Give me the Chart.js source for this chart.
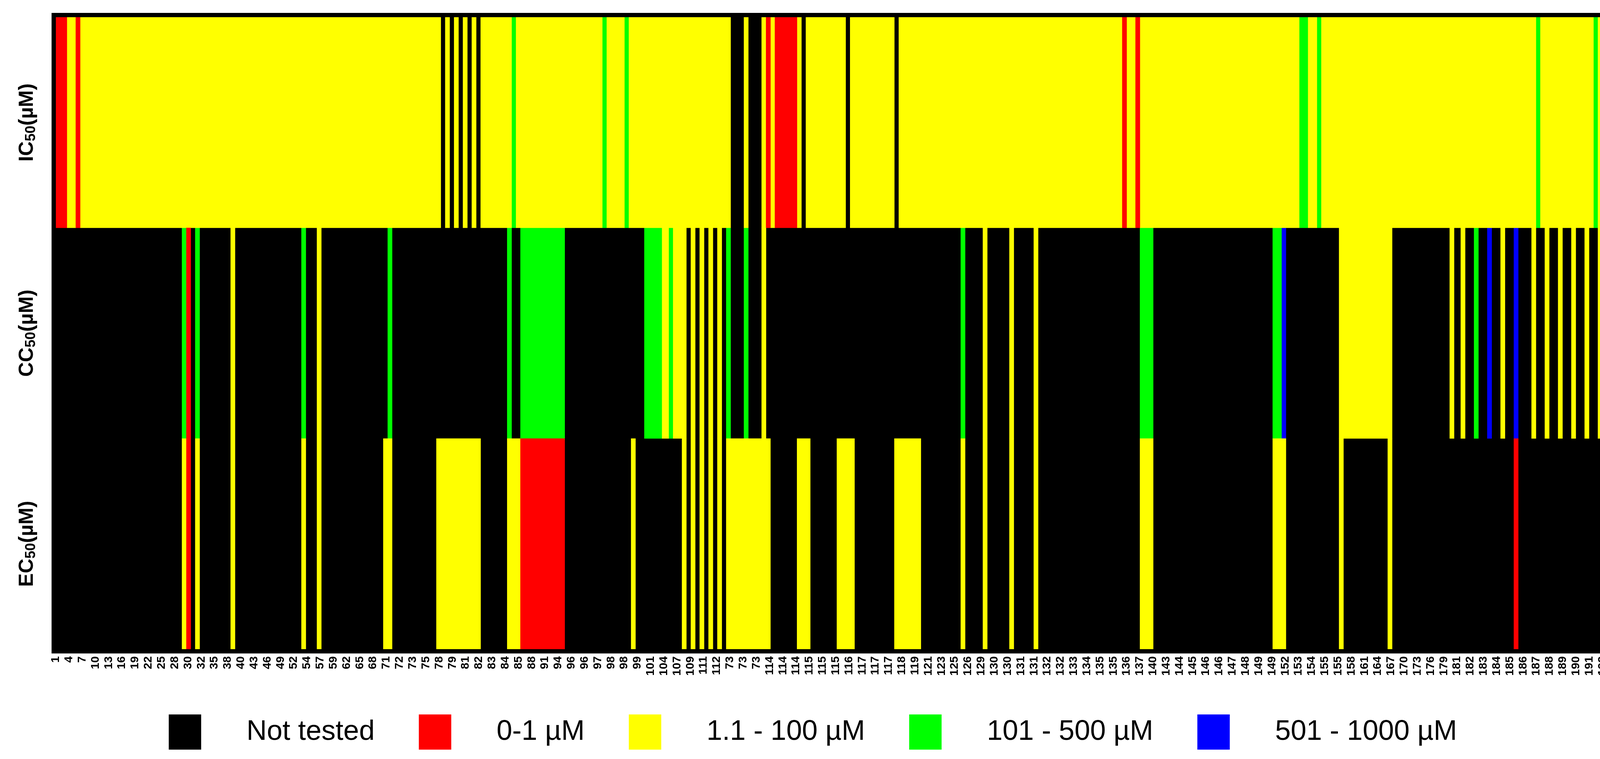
<!DOCTYPE html>
<html>
<head>
<meta charset="utf-8">
<script src="https://cdn.jsdelivr.net/npm/chart.js@4/dist/chart.umd.min.js"></script>
<style>
  html, body { margin: 0; padding: 0; background: #fff; }
  #wrap { width: 4160px; height: 1942px; }
</style>
</head>
<body>
<div id="wrap"><canvas id="heat"></canvas></div>
<script>
// Rows of the heatmap
const rows = ['IC50', 'CC50', 'EC50'];

// Compound labels under the x axis (one every 6 sub-columns)
const xLabels = [
  '1','4','7','10','13','16','19','22','25','28','30','32','35','38','40','43','46','49','52','54',
  '57','59','62','65','68','71','72','73','75','78','79','81','82','83','84','85','88','91',
  '94','96','96','97','98','98','99','101','104','107','109','111','112','73','73','73',
  '114','114','114','115','115','115','116','117','117','117','118','119','121','123','125','126','129',
  '130','130','131','131','132','132','133','134',
  '135','135','136','137','140','143','144','145','146','146','147','148','149','149','152','153','154',
  '155','155','158','161','164','167','170','173','176','179','181','182','183','184','185','186',
  '187','188','189','190','191','192'
];
const totalCols = 702;

// Segments [start, end] in sub-columns, per row and per class
const ic50Red = [[0,5],[9,11],[321,323],[325,335],[482,484],[488,490]];
const ic50Yellow = [[5,9],[11,174],[176,178],[180,182],[184,186],[188,190],[192,206],[208,247],[249,257],
  [259,305],[311,313],[319,321],[323,325],[335,337],[339,357],[359,379],[381,482],[484,488],[490,562],
  [566,570],[572,669],[671,695],[697,702]];
const ic50Green = [[206,208],[247,249],[257,259],[562,566],[570,572],[669,671],[695,697]];
const ic50Blue = [];

const cc50Red = [[59,61]];
const cc50Yellow = [[79,81],[118,120],[274,277],[279,285],[287,289],[291,293],[295,297],[299,301],[319,321],
  [419,421],[431,433],[442,444],[580,604],[630,632],[635,637],[653,655],[667,669],[673,675],[679,681],
  [685,687],[691,693],[697,699]];
const cc50Green = [[57,59],[63,65],[111,113],[150,152],[204,206],[210,230],[266,274],[277,279],[303,305],
  [311,313],[409,411],[490,496],[550,554],[641,643]];
const cc50Blue = [[554,556],[647,649],[659,661]];

const ec50Red = [[59,61],[210,230],[659,661]];
const ec50Yellow = [[57,59],[63,65],[79,81],[111,113],[118,120],[148,152],[172,192],[204,210],[260,262],
  [283,285],[287,289],[291,293],[295,297],[299,301],[303,323],[335,341],[353,361],[379,391],[409,411],
  [419,421],[431,433],[442,444],[490,496],[550,556],[580,582],[602,604]];
const ec50Green = [];
const ec50Blue = [];

const classNames = ['Not tested', '0-1 \u00b5M', '1.1 - 100 \u00b5M', '101 - 500 \u00b5M', '501 - 1000 \u00b5M'];
const classColors = ['#000000', '#ff0000', '#ffff00', '#00ff00', '#0000ff'];

function toPoints(segs, row) {
  return segs.map(s => ({ x: [s[0], s[1]], y: row }));
}

const bySeries = [
  rows.map(r => ({ x: [0, totalCols], y: r })),
  [...toPoints(ic50Red, 'IC50'), ...toPoints(cc50Red, 'CC50'), ...toPoints(ec50Red, 'EC50')],
  [...toPoints(ic50Yellow, 'IC50'), ...toPoints(cc50Yellow, 'CC50'), ...toPoints(ec50Yellow, 'EC50')],
  [...toPoints(ic50Green, 'IC50'), ...toPoints(cc50Green, 'CC50'), ...toPoints(ec50Green, 'EC50')],
  [...toPoints(ic50Blue, 'IC50'), ...toPoints(cc50Blue, 'CC50'), ...toPoints(ec50Blue, 'EC50')]
];

const datasets = bySeries.map((d, i) => ({
  label: classNames[i],
  data: d,
  backgroundColor: classColors[i],
  borderWidth: 0,
  barPercentage: 1,
  categoryPercentage: 1,
  order: i === 0 ? 1 : 0
}));

// Row titles with subscript, plus the thick frame
const rowTitles = {
  id: 'rowTitles',
  afterDraw(chart) {
    const ctx = chart.ctx;
    const ys = chart.scales.y;
    const a = chart.chartArea;
    ctx.save();
    ctx.strokeStyle = '#000';
    ctx.lineWidth = 11;
    ctx.strokeRect(a.left - 5.5, a.top - 5.5, a.right - a.left + 11, a.bottom - a.top + 11);
    rows.forEach((r, i) => {
      const y = ys.getPixelForValue(i);
      const parts = [[r.slice(0, 2), 52, 0], ['50', 36, 10], ['(\u00b5M)', 52, 0]];
      ctx.save();
      ctx.translate(70, y);
      ctx.rotate(-Math.PI / 2);
      let w = 0;
      parts.forEach(p => { ctx.font = 'bold ' + p[1] + 'px "Liberation Sans", Arial'; w += ctx.measureText(p[0]).width; });
      let x = -w / 2;
      ctx.fillStyle = '#000';
      ctx.textBaseline = 'middle';
      parts.forEach(p => {
        ctx.font = 'bold ' + p[1] + 'px "Liberation Sans", Arial';
        ctx.fillText(p[0], x, p[2]);
        x += ctx.measureText(p[0]).width;
      });
      ctx.restore();
    });
    ctx.restore();
  }
};

new Chart(document.getElementById('heat'), {
  type: 'bar',
  data: { labels: rows, datasets: datasets },
  options: {
    indexAxis: 'y',
    responsive: true,
    maintainAspectRatio: false,
    animation: false,
    layout: { padding: { left: 143, right: 41, top: 44, bottom: 14 } },
    scales: {
      x: {
        type: 'linear',
        min: 0,
        max: totalCols,
        grid: { display: false },
        border: { display: false },
        afterBuildTicks: s => { s.ticks = xLabels.map((l, k) => ({ value: k * 5.975 })); },
        ticks: {
          autoSkip: false,
          minRotation: 90,
          maxRotation: 90,
          padding: 10,
          color: '#000',
          font: { family: '"Liberation Sans", Arial', size: 30, weight: 'bold' },
          callback: (v, i) => xLabels[i]
        },
        title: { display: true, text: ' ', padding: { top: 0, bottom: 40 }, font: { size: 30 } }
      },
      y: {
        type: 'category',
        display: false,
        stacked: true,
        grid: { display: false }
      }
    },
    plugins: {
      tooltip: { enabled: false },
      legend: {
        position: 'bottom',
        labels: {
          boxWidth: 83,
          boxHeight: 90,
          padding: 13,
          color: '#000',
          font: { family: '"Liberation Sans", Arial', size: 72 },
          sort: (a, b) => a.datasetIndex - b.datasetIndex,
          generateLabels: chart => chart.data.datasets.map((d, i) => ({
            text: '    ' + d.label + '     ',
            fillStyle: d.backgroundColor,
            strokeStyle: d.backgroundColor,
            lineWidth: 0,
            hidden: false,
            datasetIndex: i
          }))
        }
      }
    }
  },
  plugins: [rowTitles]
});
</script>
</body>
</html>
